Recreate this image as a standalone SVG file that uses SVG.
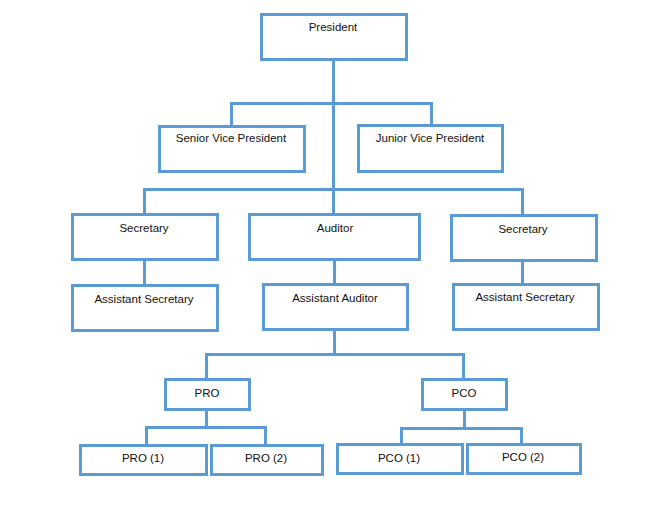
<svg xmlns="http://www.w3.org/2000/svg" width="670" height="506" viewBox="0 0 670 506">
<style>
.b{fill:#fff;stroke:#5B9BD5;stroke-width:3}
.c{fill:none;stroke:#5B9BD5;stroke-width:3}
.t{font-family:"Liberation Sans",Arial,sans-serif;font-size:11.5px;fill:#111;text-anchor:middle}
</style>
<rect width="670" height="506" fill="#fff"/>
<g id="connectors">
<path class="c" d="M333.5,60 V189.5"/>
<path class="c" d="M231.5,126 V103.5 H431.5 V125"/>
<path class="c" d="M144.5,214 V189.5 H522.5 V215"/>
<path class="c" d="M333.5,189 V214"/>
<path class="c" d="M144.5,259 V285"/>
<path class="c" d="M334.5,259 V284"/>
<path class="c" d="M522.5,260 V284"/>
<path class="c" d="M334.5,329 V354.5"/>
<path class="c" d="M206.5,379 V354.5 H463.5 V379"/>
<path class="c" d="M206.5,409 V427.5"/>
<path class="c" d="M146.5,445 V427.5 H265.5 V445"/>
<path class="c" d="M464.5,409 V428.5"/>
<path class="c" d="M401.5,444 V428.5 H521.5 V444"/>
</g>
<g id="president"><rect class="b" x="261.5" y="14.5" width="145" height="45"/><text class="t" x="333" y="31">President</text></g>
<g id="senior-vp"><rect class="b" x="159.5" y="126.5" width="145" height="45"/><text class="t" x="231" y="142">Senior Vice President</text></g>
<g id="junior-vp"><rect class="b" x="358.5" y="125.5" width="144" height="46"/><text class="t" x="430" y="142">Junior Vice President</text></g>
<g id="secretary-left"><rect class="b" x="72.5" y="214.5" width="145" height="45"/><text class="t" x="144" y="232">Secretary</text></g>
<g id="auditor"><rect class="b" x="249.5" y="214.5" width="170" height="45"/><text class="t" x="335" y="232">Auditor</text></g>
<g id="secretary-right"><rect class="b" x="451.5" y="215.5" width="145" height="45"/><text class="t" x="523" y="233">Secretary</text></g>
<g id="asst-secretary-left"><rect class="b" x="72.5" y="285.5" width="145" height="45"/><text class="t" x="144" y="303">Assistant Secretary</text></g>
<g id="asst-auditor"><rect class="b" x="263.5" y="284.5" width="144" height="45"/><text class="t" x="335" y="302">Assistant Auditor</text></g>
<g id="asst-secretary-right"><rect class="b" x="453.5" y="284.5" width="145" height="45"/><text class="t" x="525" y="301">Assistant Secretary</text></g>
<g id="pro"><rect class="b" x="165.5" y="379.5" width="84" height="30"/><text class="t" x="207" y="397">PRO</text></g>
<g id="pco"><rect class="b" x="422.5" y="379.5" width="84" height="30"/><text class="t" x="464" y="397">PCO</text></g>
<g id="pro1"><rect class="b" x="80.5" y="445.5" width="126" height="29"/><text class="t" x="143" y="462">PRO (1)</text></g>
<g id="pro2"><rect class="b" x="211.5" y="445.5" width="111" height="29"/><text class="t" x="266" y="462">PRO (2)</text></g>
<g id="pco1"><rect class="b" x="337.5" y="444.5" width="125" height="29"/><text class="t" x="399" y="462">PCO (1)</text></g>
<g id="pco2"><rect class="b" x="467.5" y="444.5" width="113" height="29"/><text class="t" x="523" y="461">PCO (2)</text></g>
</svg>
